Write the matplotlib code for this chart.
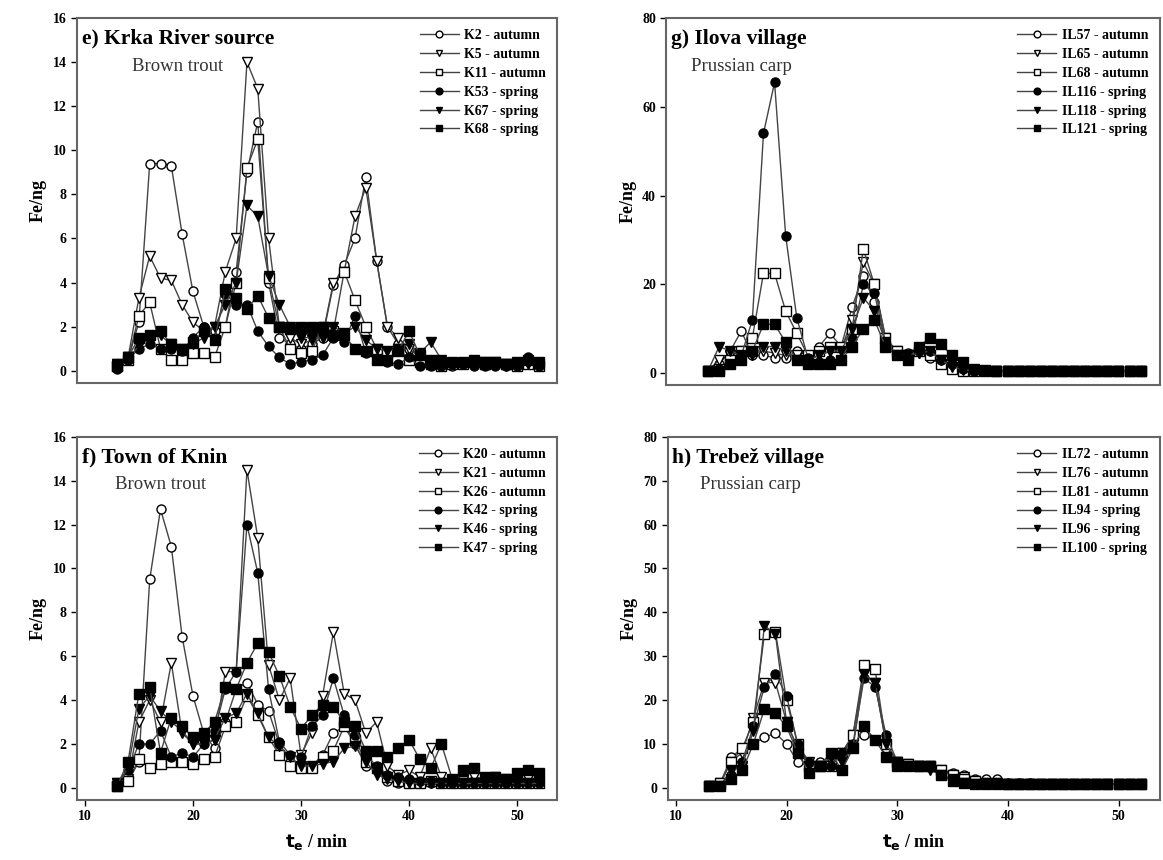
import matplotlib
matplotlib.use("Agg")
import matplotlib.pyplot as plt
import numpy as np

plt.rcParams['font.family'] = ['Liberation Serif', 'DejaVu Serif']

# elution time, min
t = list(range(13, 53))

# e) Krka River source - Brown trout
e_names = ["K2 - autumn", "K5 - autumn", "K11 - autumn", "K53 - spring", "K67 - spring", "K68 - spring"]
e_K2 = [0.2, 0.5, 2.2, 9.4, 9.4, 9.3, 6.2, 3.6, 2.0, 1.8, 2.0, 4.5, 9.0, 11.3, 4.0, 1.5, 1.2, 1.0, 1.2, 1.5,
        3.9, 4.8, 6.0, 8.8, 5.0, 2.0, 1.2, 1.0, 0.7, 0.4, 0.3, 0.2, 0.3, 0.3, 0.4, 0.3, 0.2, 0.3, 0.4, 0.3]
e_K5 = [0.3, 0.6, 3.3, 5.2, 4.2, 4.1, 3.0, 2.2, 1.8, 2.0, 4.5, 6.0, 14.0, 12.8, 6.0, 2.0, 1.5, 1.2, 1.4, 1.6,
        4.0, 4.5, 7.0, 8.3, 5.0, 2.0, 1.5, 1.0, 0.6, 0.4, 0.3, 0.3, 0.3, 0.3, 0.4, 0.3, 0.2, 0.3, 0.4, 0.3]
e_K11 = [0.2, 0.5, 2.5, 3.1, 1.0, 0.5, 0.5, 0.8, 0.8, 0.6, 2.0, 4.0, 9.2, 10.5, 4.2, 2.0, 1.0, 0.8, 0.9, 2.0,
         1.8, 4.5, 3.2, 2.0, 1.0, 0.8, 1.0, 0.5, 0.4, 0.3, 0.2, 0.3, 0.3, 0.4, 0.3, 0.4, 0.3, 0.2, 0.3, 0.2]
e_K53 = [0.1, 0.5, 1.0, 1.2, 1.0, 1.0, 0.9, 1.5, 2.0, 1.5, 3.5, 3.0, 3.0, 1.8, 1.1, 0.6, 0.3, 0.4, 0.5, 0.7,
         1.5, 1.3, 2.5, 0.8, 0.5, 0.4, 0.3, 0.6, 0.2, 0.2, 0.2, 0.3, 0.3, 0.2, 0.2, 0.2, 0.3, 0.2, 0.6, 0.2]
e_K67 = [0.3, 0.6, 1.1, 1.5, 1.6, 1.2, 1.0, 1.2, 1.5, 2.0, 3.0, 4.0, 7.5, 7.0, 4.3, 3.0, 2.0, 1.5, 1.5, 1.5,
         2.0, 1.7, 2.0, 1.4, 1.0, 0.9, 1.0, 1.2, 0.8, 1.3, 0.5, 0.3, 0.3, 0.3, 0.4, 0.3, 0.3, 0.2, 0.3, 0.2]
e_K68 = [0.2, 0.6, 1.5, 1.6, 1.8, 1.2, 1.0, 1.3, 1.8, 1.4, 3.7, 3.3, 2.8, 3.4, 2.4, 2.0, 1.9, 2.0, 2.0, 2.0,
         1.6, 1.6, 1.0, 0.9, 0.5, 0.5, 0.9, 1.8, 0.7, 0.5, 0.4, 0.4, 0.4, 0.5, 0.3, 0.4, 0.3, 0.4, 0.5, 0.4]

# f) Town of Knin - Brown trout
f_names = ["K20 - autumn", "K21 - autumn", "K26 - autumn", "K42 - spring", "K46 - spring", "K47 - spring"]
f_K20 = [0.2, 0.3, 1.2, 9.5, 12.7, 11.0, 6.9, 4.2, 2.5, 1.8, 3.0, 4.5, 4.8, 3.8, 3.5, 2.0, 1.2, 0.9, 1.0, 1.5,
         2.5, 2.8, 2.0, 1.0, 0.8, 0.3, 0.2, 0.3, 0.2, 0.2, 0.2, 0.2, 0.2, 0.2, 0.2, 0.2, 0.2, 0.2, 0.2, 0.2]
f_K21 = [0.2, 0.4, 3.0, 4.0, 3.0, 5.7, 2.5, 2.0, 2.0, 2.2, 5.3, 5.3, 14.5, 11.4, 5.6, 4.0, 5.0, 1.5, 2.5, 4.2,
         7.1, 4.3, 4.0, 2.5, 3.0, 1.0, 0.6, 0.8, 0.5, 1.8, 0.5, 0.3, 0.3, 0.5, 0.4, 0.5, 0.4, 0.4, 0.4, 0.3]
f_K26 = [0.1, 0.3, 1.3, 0.9, 1.1, 1.2, 1.2, 1.1, 1.3, 1.4, 2.8, 3.0, 4.2, 3.3, 2.3, 1.5, 1.0, 0.9, 0.9, 1.4,
         1.7, 2.8, 2.2, 1.2, 0.9, 0.5, 0.3, 0.2, 0.2, 0.3, 0.2, 0.2, 0.2, 0.2, 0.2, 0.2, 0.2, 0.2, 0.2, 0.2]
f_K42 = [0.2, 0.8, 2.0, 2.0, 2.6, 1.4, 1.6, 1.4, 2.0, 2.6, 4.5, 5.3, 12.0, 9.8, 4.5, 2.1, 1.5, 1.4, 2.8, 3.3,
         5.0, 3.3, 2.4, 1.5, 1.0, 0.6, 0.5, 0.4, 0.3, 0.3, 0.2, 0.2, 0.2, 0.2, 0.2, 0.2, 0.2, 0.2, 0.2, 0.2]
f_K46 = [0.2, 0.9, 3.6, 4.2, 3.5, 3.0, 2.6, 2.0, 2.0, 2.2, 3.2, 3.4, 4.3, 3.4, 2.3, 1.9, 1.4, 1.0, 1.0, 1.1,
         1.2, 1.8, 1.9, 1.2, 0.6, 0.4, 0.3, 0.2, 0.2, 0.2, 0.2, 0.2, 0.2, 0.2, 0.2, 0.2, 0.2, 0.2, 0.2, 0.2]
f_K47 = [0.1, 1.2, 4.3, 4.6, 1.6, 3.2, 2.8, 2.3, 2.5, 3.0, 4.6, 4.5, 5.7, 6.6, 6.2, 5.1, 3.7, 2.7, 3.3, 3.8,
         3.7, 3.0, 2.8, 1.7, 1.7, 1.4, 1.8, 2.2, 1.3, 0.9, 2.0, 0.4, 0.8, 0.9, 0.5, 0.5, 0.4, 0.7, 0.8, 0.7]

# g) Ilova village - Prussian carp
g_names = ["IL57 - autumn", "IL65 - autumn", "IL68 - autumn", "IL116 - spring", "IL118 - spring", "IL121 - spring"]
g_IL57 = [0.5, 2.0, 5.0, 9.5, 4.0, 4.0, 3.5, 3.5, 5.0, 4.0, 6.0, 9.0, 6.0, 15.0, 22.0, 16.0, 7.0, 5.0, 4.5, 5.0,
          3.5, 2.0, 1.0, 0.6, 0.5, 0.4, 0.4, 0.4, 0.4, 0.4, 0.4, 0.4, 0.4, 0.4, 0.4, 0.4, 0.4, 0.4, 0.4, 0.4]
g_IL65 = [0.5, 3.0, 4.0, 5.0, 4.5, 5.0, 4.5, 4.0, 4.0, 3.0, 4.0, 5.0, 5.5, 12.0, 25.0, 20.0, 8.0, 5.0, 4.0, 4.5,
          4.0, 3.0, 1.5, 0.8, 0.5, 0.4, 0.4, 0.4, 0.4, 0.4, 0.4, 0.4, 0.4, 0.4, 0.4, 0.4, 0.4, 0.4, 0.4, 0.4]
g_IL68 = [0.5, 1.0, 3.0, 5.0, 8.0, 22.5, 22.5, 14.0, 9.0, 4.0, 5.0, 6.0, 6.0, 10.0, 28.0, 20.0, 8.0, 5.0, 4.0, 5.0,
          4.0, 2.0, 1.0, 0.5, 0.4, 0.4, 0.4, 0.4, 0.4, 0.4, 0.4, 0.4, 0.4, 0.4, 0.4, 0.4, 0.4, 0.4, 0.4, 0.4]
g_IL116 = [0.5, 1.0, 2.0, 4.0, 12.0, 54.0, 65.5, 31.0, 12.5, 3.5, 2.5, 3.0, 3.0, 8.0, 20.0, 18.0, 7.0, 4.0, 4.0, 5.0,
           5.0, 3.0, 2.0, 1.0, 0.5, 0.5, 0.5, 0.5, 0.5, 0.5, 0.5, 0.5, 0.5, 0.5, 0.5, 0.5, 0.5, 0.5, 0.5, 0.5]
g_IL118 = [0.5, 6.0, 5.0, 4.0, 4.0, 6.0, 6.0, 5.0, 3.0, 3.0, 4.0, 5.0, 5.0, 10.0, 17.0, 14.0, 7.0, 4.0, 4.0, 4.5,
           5.0, 3.0, 1.5, 0.8, 0.5, 0.5, 0.5, 0.5, 0.5, 0.5, 0.5, 0.5, 0.5, 0.5, 0.5, 0.5, 0.5, 0.5, 0.5, 0.5]
g_IL121 = [0.5, 0.5, 2.0, 3.0, 5.0, 11.0, 11.0, 7.0, 3.0, 2.0, 2.0, 2.0, 3.0, 6.0, 10.0, 12.0, 6.0, 4.0, 3.0, 6.0,
           8.0, 6.5, 4.0, 2.5, 1.0, 0.7, 0.5, 0.5, 0.5, 0.5, 0.5, 0.5, 0.5, 0.5, 0.5, 0.5, 0.5, 0.5, 0.5, 0.5]

# h) Trebez village - Prussian carp
h_names = ["IL72 - autumn", "IL76 - autumn", "IL81 - autumn", "IL94 - spring", "IL96 - spring", "IL100 - spring"]
h_IL72 = [0.5, 1.0, 7.0, 9.0, 10.0, 11.5, 12.5, 10.0, 6.0, 5.0, 6.0, 7.0, 8.0, 11.0, 12.0, 11.0, 9.0, 6.0, 5.0, 5.0,
          5.0, 4.0, 3.5, 3.0, 2.0, 2.0, 2.0, 1.0, 1.0, 1.0, 0.8, 0.8, 0.8, 0.8, 0.8, 0.8, 0.8, 0.8, 0.8, 0.8]
h_IL76 = [0.5, 1.0, 6.0, 8.0, 16.0, 24.0, 24.0, 15.0, 9.0, 6.0, 5.0, 7.0, 8.0, 12.0, 26.0, 24.0, 10.0, 6.0, 5.5, 5.0,
          5.0, 4.0, 3.0, 2.5, 1.5, 1.0, 1.0, 0.8, 0.8, 0.8, 0.8, 0.8, 0.8, 0.8, 0.8, 0.8, 0.8, 0.8, 0.8, 0.8]
h_IL81 = [0.5, 1.0, 6.0, 9.0, 15.0, 35.0, 35.5, 20.0, 10.0, 5.0, 5.0, 5.0, 8.0, 12.0, 28.0, 27.0, 10.0, 6.0, 5.5, 5.0,
          5.0, 4.0, 3.0, 2.0, 1.5, 1.0, 1.0, 0.8, 0.8, 0.8, 0.8, 0.8, 0.8, 0.8, 0.8, 0.8, 0.8, 0.8, 0.8, 0.8]
h_IL94 = [0.5, 0.5, 3.0, 6.0, 14.0, 23.0, 26.0, 21.0, 10.0, 6.0, 5.0, 5.0, 8.0, 10.0, 25.0, 23.0, 12.0, 6.0, 5.0, 5.0,
          5.0, 3.0, 1.5, 1.0, 0.8, 0.8, 0.8, 0.8, 0.8, 0.8, 0.8, 0.8, 0.8, 0.8, 0.8, 0.8, 0.8, 0.8, 0.8, 0.8]
h_IL96 = [0.5, 0.5, 4.0, 5.0, 13.0, 37.0, 35.0, 15.0, 9.0, 5.0, 5.0, 7.0, 6.0, 9.0, 26.0, 24.0, 10.0, 6.0, 5.0, 5.0,
          4.0, 3.0, 2.0, 1.0, 0.8, 0.8, 0.8, 0.8, 0.8, 0.8, 0.8, 0.8, 0.8, 0.8, 0.8, 0.8, 0.8, 0.8, 0.8, 0.8]
h_IL100 = [0.5, 0.5, 2.0, 4.0, 10.0, 18.0, 17.0, 14.0, 8.0, 3.5, 5.0, 8.0, 4.0, 9.0, 14.0, 11.0, 7.0, 5.0, 5.0, 5.0,
           5.0, 3.0, 1.5, 1.0, 0.8, 0.8, 0.8, 0.8, 0.8, 0.8, 0.8, 0.8, 0.8, 0.8, 0.8, 0.8, 0.8, 0.8, 0.8, 0.8]

panels = [
    ("e) Krka River source", "Brown trout", e_names, [e_K2, e_K5, e_K11, e_K53, e_K67, e_K68], 16, 2, 0.115),
    ("f) Town of Knin", "Brown trout", f_names, [f_K20, f_K21, f_K26, f_K42, f_K46, f_K47], 16, 2, 0.08),
    ("g) Ilova village", "Prussian carp", g_names, [g_IL57, g_IL65, g_IL68, g_IL116, g_IL118, g_IL121], 80, 20, 0.05),
    ("h) Trebež village", "Prussian carp", h_names, [h_IL72, h_IL76, h_IL81, h_IL94, h_IL96, h_IL100], 80, 10, 0.065),
]

markers = ['o', 'v', 's', 'o', 'v', 's']
fills = ['white', 'white', 'white', 'black', 'black', 'black']

fig = plt.figure(figsize=(11.63, 8.6), dpi=100)
rects = [
    [0.066, 0.555, 0.413, 0.424],
    [0.066, 0.070, 0.413, 0.422],
    [0.573, 0.552, 0.424, 0.427],
    [0.574, 0.070, 0.423, 0.422],
]

for i, (title, fish, names, series, ymax, ystep, fx) in enumerate(panels):
    ax = fig.add_axes(rects[i])
    for s, name, m, fc in zip(series, names, markers, fills):
        ax.plot(t, s, color='#444444', lw=1.0, marker=m, markersize=6.5,
                markerfacecolor=fc, markeredgecolor='black', markeredgewidth=1.0, label=name)
    ax.set_xlim(9.25, 53.7)
    ax.set_ylim(-ymax * 0.034, ymax)
    ax.set_yticks(np.arange(0, ymax + 1, ystep))
    ax.set_xticks([10, 20, 30, 40, 50])
    for sp in ax.spines.values():
        sp.set_color('#666666')
        sp.set_linewidth(1.5)
    ax.tick_params(axis='y', direction='out', length=4, width=1, labelsize=10)
    if i in (1, 3):
        ax.tick_params(axis='x', direction='out', length=4, width=1, labelsize=10)
        ax.set_xlabel(r'$\mathbf{t_e}$ / min', fontsize=13, fontweight='bold', labelpad=6)
    else:
        ax.tick_params(axis='x', bottom=False, labelbottom=False)
    for lab in ax.get_xticklabels() + ax.get_yticklabels():
        lab.set_fontweight('bold')
    ax.set_ylabel('Fe/ng', fontsize=13, fontweight='bold')
    ax.text(0.01, 0.943, title, transform=ax.transAxes, fontsize=15.5, fontweight='bold', va='center')
    ax.text(fx, 0.868, fish, transform=ax.transAxes, fontsize=13.5, color='#333333', va='center')
    leg = ax.legend(loc='upper right', frameon=False, fontsize=10, handlelength=2.8,
                    labelspacing=0.42, borderaxespad=0.4, markerscale=0.75, handletextpad=0.4)
    for txt in leg.get_texts():
        txt.set_fontweight('bold')

fig.savefig('out.png', dpi=100)
